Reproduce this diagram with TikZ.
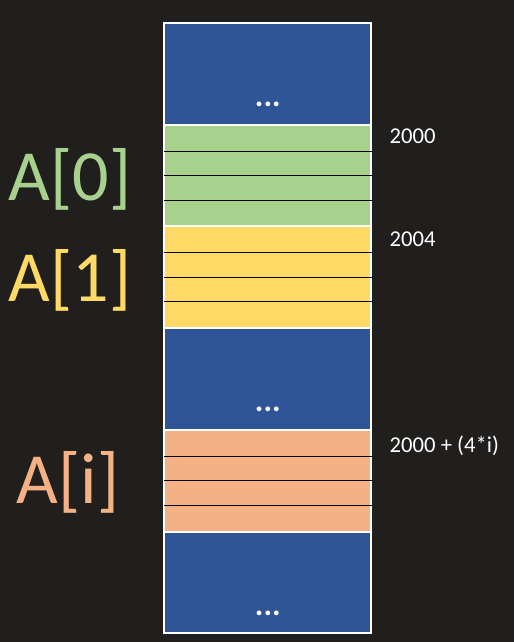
\documentclass[tikz,border=0pt]{standalone}
\usepackage{fontspec}
\setmainfont{Carlito}
\usetikzlibrary{positioning,calc}
\definecolor{memback}{RGB}{32,31,30}
\definecolor{memblue}{RGB}{47,85,151}
\definecolor{memgreen}{RGB}{169,209,142}
\definecolor{memyellow}{RGB}{255,217,102}
\definecolor{memorange}{RGB}{244,177,131}

\begin{document}
\begin{tikzpicture}[
    x=0.75pt, y=-0.75pt,
    blk/.style={rectangle, draw=white, line width=1.5pt, outer sep=0pt,
                minimum width=155.25pt, minimum height=76.3pt, inner sep=0pt},
    sep/.style={black, line width=0.75pt},
    dots/.style={white, font=\fontsize{24}{26}\selectfont\bfseries, anchor=base},
    addr/.style={white, font=\fontsize{17}{20}\selectfont, anchor=base west},
    big/.style={font=\fontsize{54}{60}\selectfont},
  ]

  % ---- background -------------------------------------------
  \fill[memback] (0,0) rectangle (514,642);
  \useasboundingbox (0,0) rectangle (514,642);

  % ---- memory column ----------------------------------------
  \node[blk, fill=memblue]   (top)  at (267.8,73.85) {};
  \node[blk, fill=memgreen,  below=0pt of top]  (a0)   {};
  \node[blk, fill=memyellow, below=0pt of a0]   (a1)   {};
  \node[blk, fill=memblue,   below=0pt of a1]   (mid)  {};
  \node[blk, fill=memorange, below=0pt of mid]  (ai)   {};
  \node[blk, fill=memblue,   below=0pt of ai]   (bot)  {};

  % ---- byte separators --------------------------------------
  \foreach \b in {a0,a1,ai}{
    \foreach \f in {0.26,0.5,0.74}{
      \draw[sep] ($(\b.north west)!\f!(\b.south west)$)
              -- ($(\b.north east)!\f!(\b.south east)+(1.5,0)$);
    }
  }

  % ---- ellipses ---------------------------------------------
  \node[dots] (dtop) at ($(top.south)+(0,-18)$) {...};
  \node[dots] (dmid) at ($(mid.south)+(0,-18)$) {...};
  \node[dots] (dbot) at ($(bot.south)+(0,-18)$) {...};

  % ---- element names ----------------------------------------
  \node[big, memgreen]  (n0) at (70,179) {A[0]};
  \node[big, memyellow] (n1) at (70,280) {A[1]};
  \node[big, memorange] (ni) at (68,482) {A[i]};

  % ---- addresses --------------------------------------------
  \node[addr] (ad0) at (385,143) {2000};
  \node[addr] (ad1) at (385,246) {2004};
  \node[addr] (adi) at (385,452) {2000 + (4*i)};

\end{tikzpicture}
\end{document}
